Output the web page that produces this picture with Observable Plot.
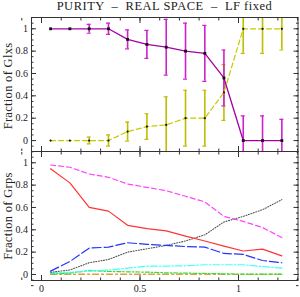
<!DOCTYPE html>
<html><head><meta charset="utf-8">
<script src="https://cdn.jsdelivr.net/npm/d3@7"></script>
<script src="https://cdn.jsdelivr.net/npm/@observablehq/plot@0.6"></script>
<style>
body{margin:0;background:#fff;}
#wrap{position:relative;width:300px;height:297px;overflow:hidden;font-family:"Liberation Serif",serif;color:#222;}
#title{position:absolute;left:31px;width:267px;top:0;text-align:center;font-size:12.5px;line-height:13px;letter-spacing:0.5px;white-space:pre;}
.ylab{position:absolute;left:8px;font-size:12.5px;white-space:nowrap;transform:translate(-50%,-50%) rotate(-90deg);letter-spacing:0.3px;}
#wrap svg{position:absolute;left:0;}
</style></head>
<body><div id="wrap">
<div id="title">PURITY  –  REAL SPACE  –  LF fixed</div>
<div class="ylab" style="top:86px">Fraction of Glxs</div>
<div class="ylab" style="top:216px">Fraction of Grps</div>
</div>
<script>
// ---- data ----
const xs = [0.046,0.144,0.242,0.340,0.437,0.535,0.633,0.731,0.829,0.926,1.024,1.122,1.220];
// top panel: fraction of galaxies
const glxPurple = [1,1,1,1,0.905,0.86,0.835,0.80,0.78,0.56,0,0,0];
const glxPurpleErr = [0,0,0.04,0.05,0.085,0.125,0.25,0.25,0.25,0.25,0.22,0.22,0.19];
const glxYellow = [0,0,0,0,0.08,0.125,0.14,0.20,0.20,0.43,1,1,1];
const glxYellowErr = [0,0,0.03,0.05,0.085,0.115,0.25,0.25,0.25,0.25,0.22,0.22,0.19];
// bottom panel: fraction of groups
const grpMagenta = [0.98,0.96,0.90,0.87,0.81,0.78,0.75,0.70,0.65,0.52,0.475,0.42,0.33];
const grpRed = [0.946,0.82,0.60,0.567,0.44,0.41,0.39,0.343,0.30,0.254,0.21,0.227,0.167];
const grpBlue = [0.03,0.116,0.236,0.245,0.284,0.27,0.26,0.25,0.245,0.188,0.18,0.125,0.105];
const grpDotted = [0.02,0.04,0.105,0.134,0.20,0.23,0.26,0.30,0.355,0.47,0.52,0.58,0.67];
const grpCyan = [0.015,0.02,0.03,0.04,0.057,0.075,0.075,0.078,0.087,0.087,0.087,0.07,0.057];
const grpGreen = [0.006,0.012,0.036,0.027,0.024,0.021,0.015,0.012,0.009,0.006,0.003,0.003,0.003];
const grpOrange = [0.002,0.002,0.002,0.002,0.002,0.002,0.002,0.002,0.002,0.001,0.001,0.001,0.001];
// ticks
const yMajor = [0,0.2,0.4,0.6,0.8,1];
const yMinor = d3.range(-2,23).map(i => i*0.05);
const xMajor = [0,0.5,1];
const xMinor = d3.range(-1,14).map(i => i*0.1);
const fmt = d => String(d);

const FRAME = "#333";
const xDomain = [-0.0508, 1.302];

function frameAxes(showX) {
  return [
    Plot.frame({stroke: FRAME}),
    Plot.axisY(yMajor, {anchor:"left", tickSize:-5, tickPadding:8.5, tickFormat: fmt, stroke:FRAME, fill:"#222", fontSize:10}),
    Plot.axisY(yMinor, {anchor:"left", tickSize:-2.5, stroke:FRAME, fill:"none"}),
    Plot.axisY(yMajor, {anchor:"right", tickSize:-5, stroke:FRAME, fill:"none"}),
    Plot.axisY(yMinor, {anchor:"right", tickSize:-2.5, stroke:FRAME, fill:"none"}),
    Plot.axisX(xMajor, {anchor:"top", tickSize:-5, stroke:FRAME, fill:"none"}),
    Plot.axisX(xMinor, {anchor:"top", tickSize:-2.5, stroke:FRAME, fill:"none"}),
    Plot.axisX(xMajor, {anchor:"bottom", tickSize:-5, tickPadding:9, tickFormat: fmt, stroke:FRAME, fill: showX ? "#222" : "none", fontSize:10}),
    Plot.axisX(xMinor, {anchor:"bottom", tickSize:-2.5, stroke:FRAME, fill:"none"})
  ];
}

const style = {fontFamily:"'Liberation Serif', serif", fontSize:"10px", background:"transparent", overflow:"visible"};

// ---- top panel ----
const topRows = xs.map((x,i) => ({x, a: glxPurple[i], ea: glxPurpleErr[i], b: glxYellow[i], eb: glxYellowErr[i]}));
const PURPLE = "#a400a4", PURPLE_ERR = "#cc22cc", YEL = "#c8c800", YEL_ERR = "#bebe00";
const errMarks = (val, err, col) => [
  Plot.ruleX(topRows, {filter: d => d[err] > 0, x:"x", y1: d => d[val]-d[err], y2: d => d[val]+d[err], stroke: col, strokeWidth: 1.6, clip: true}),
  Plot.ruleY(topRows, {filter: d => d[err] > 0, x1:"x", x2:"x", y: d => d[val]-d[err], insetLeft:-2, insetRight:-2, stroke: col, strokeWidth: 1.2, clip: true}),
  Plot.ruleY(topRows, {filter: d => d[err] > 0, x1:"x", x2:"x", y: d => d[val]+d[err], insetLeft:-2, insetRight:-2, stroke: col, strokeWidth: 1.2, clip: true})
];
const topPlot = Plot.plot({
  width: 300, height: 135, marginTop: 1, marginBottom: 0, marginLeft: 31, marginRight: 2.5,
  style,
  x: {domain: xDomain, label: null},
  y: {domain: [-0.098, 1.101], label: null},
  marks: [
    ...errMarks("b", "eb", YEL_ERR),
    ...errMarks("a", "ea", PURPLE_ERR),
    Plot.line(topRows, {x:"x", y:"b", stroke: YEL, strokeWidth: 1.2, strokeDasharray: "5,3"}),
    Plot.line(topRows, {x:"x", y:"a", stroke: PURPLE, strokeWidth: 1.3}),
    Plot.dot(topRows, {x:"x", y:"b", r: 1.1, fill: "#111", stroke: "none"}),
    Plot.dot(topRows, {x:"x", y:"a", symbol: "square", r: 1.6, fill: "#111", stroke: "none"}),
    ...frameAxes(false)
  ]
});
topPlot.style.top = "16px";

// ---- bottom panel ----
const series = [
  {name:"magenta", vals: grpMagenta, color:"#ff44ff", dash:"5,3", w:1.2},
  {name:"red", vals: grpRed, color:"#ff3333", dash:null, w:1.2},
  {name:"blue", vals: grpBlue, color:"#2233ff", dash:"9,3", w:1.2},
  {name:"dotted", vals: grpDotted, color:"#555555", dash:"1,1.6", w:1.1},
  {name:"cyan", vals: grpCyan, color:"#44ffff", dash:"7,2,1.5,2", w:1.2},
  {name:"green", vals: grpGreen, color:"#33dd33", dash:"4,2,1.5,2", w:1.2},
  {name:"orange", vals: grpOrange, color:"#e0a040", dash:"6,3,2,3", w:1.3}
];
const bottomMarks = series.slice().reverse().map(s =>
  Plot.line(xs.map((x,i) => ({x, y: s.vals[i]})), {x:"x", y:"y", stroke: s.color, strokeWidth: s.w, strokeDasharray: s.dash, clip: true})
);
const botPlot = Plot.plot({
  width: 300, height: 147, marginTop: 1, marginBottom: 17, marginLeft: 31, marginRight: 2.5,
  style,
  x: {domain: xDomain, label: null},
  y: {domain: [-0.054, 1.101], label: null},
  marks: [
    ...bottomMarks,
    ...frameAxes(true)
  ]
});
botPlot.style.top = "150px";

const wrap = document.getElementById("wrap");
wrap.appendChild(topPlot);
wrap.appendChild(botPlot);
</script>
</body></html>
